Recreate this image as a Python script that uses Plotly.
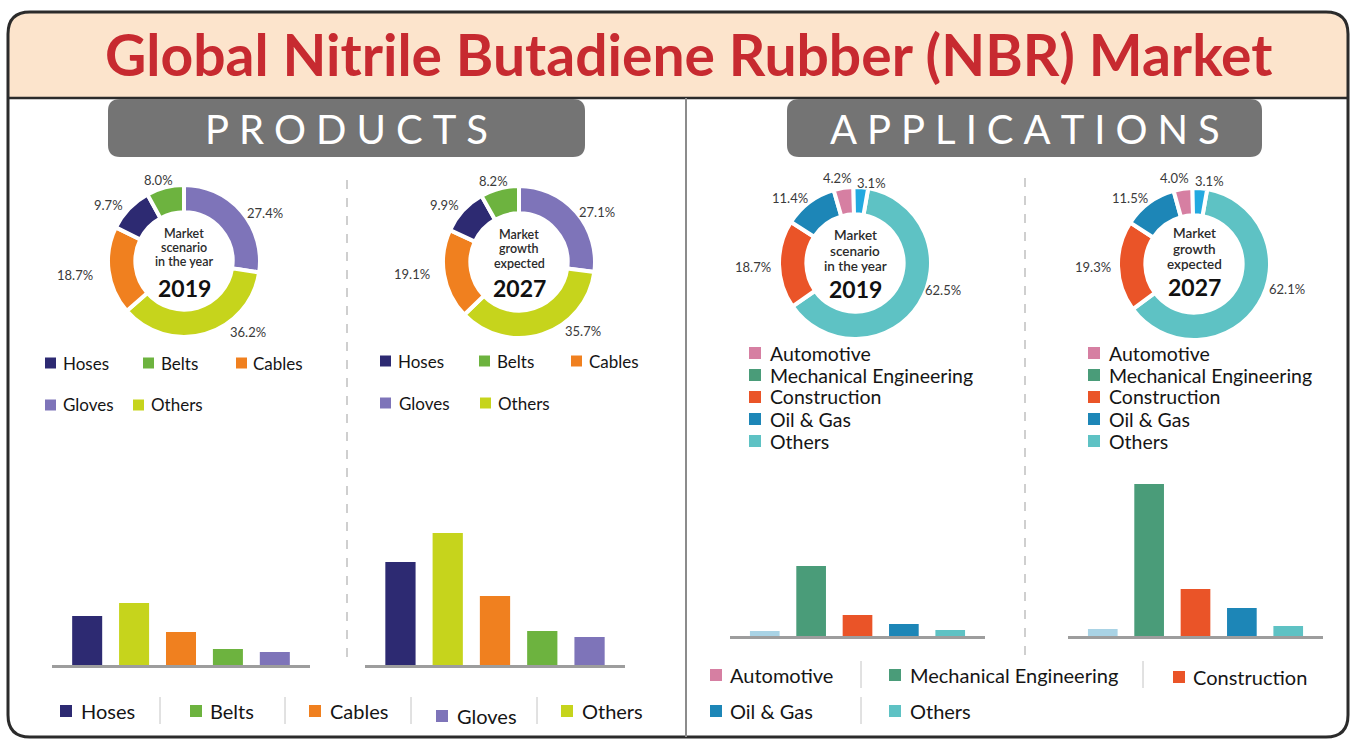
import plotly.graph_objects as go

W, H = 1354, 740

# ---------------- data ----------------
prod_pie_labels = ["Gloves", "Others", "Cables", "Hoses", "Belts"]
prod_share_2019 = [27.4, 36.2, 18.7, 9.7, 8.0]
prod_share_2027 = [27.1, 35.7, 19.1, 9.9, 8.2]

prod_bar_cats = ["Hoses", "Others", "Cables", "Belts", "Gloves"]
prod_bar_2019 = [49, 62, 33, 16, 13]
prod_bar_2027 = [103, 132, 69, 34, 28]

prod_legend_bottom = ["Hoses", "Belts", "Cables", "Gloves", "Others"]

app_pie_labels = ["Others", "Construction", "Oil & Gas", "Automotive", "Mechanical Engineering"]
app_share_2019 = [62.5, 18.7, 11.4, 4.2, 3.1]
app_share_2027 = [62.1, 19.3, 11.5, 4.0, 3.1]

app_bar_cats = ["Automotive", "Mechanical Engineering", "Construction", "Oil & Gas", "Others"]
app_bar_2019 = [5, 70, 21, 12, 6]
app_bar_2027 = [7, 152, 47, 28, 10]

app_legend = ["Automotive", "Mechanical Engineering", "Construction", "Oil & Gas", "Others"]

# ---------------- styles ----------------
PROD_COL = {"Hoses": "#2d2a72", "Belts": "#6db33f", "Cables": "#f0801f",
            "Gloves": "#7e74b9", "Others": "#c6d41c"}
APP_PIE_COL = {"Others": "#5ec2c4", "Construction": "#ea5428", "Oil & Gas": "#1d86b7",
               "Automotive": "#d67fa2", "Mechanical Engineering": "#22a9e0"}
APP_LEG_COL = {"Automotive": "#d67fa2", "Mechanical Engineering": "#4a9c79",
               "Construction": "#ea5428", "Oil & Gas": "#1d86b7", "Others": "#5ec2c4"}
APP_BAR_COL = {"Automotive": "#a9d3e5", "Mechanical Engineering": "#4a9c79",
               "Construction": "#ea5428", "Oil & Gas": "#1d86b7", "Others": "#5ec2c4"}
FONT = "Lato"


def X(px):
    return px / W


def Y(py):
    return 1 - py / H


def rrect_path(x0, y0, x1, y1, r, top=True, bottom=True):
    rt = r if top else 0
    rb = r if bottom else 0
    pts = []
    pts.append(f"M {X(x0 + rt)},{Y(y0)}")
    pts.append(f"L {X(x1 - rt)},{Y(y0)}")
    if rt:
        pts.append(f"Q {X(x1)},{Y(y0)} {X(x1)},{Y(y0 + rt)}")
    pts.append(f"L {X(x1)},{Y(y1 - rb)}")
    if rb:
        pts.append(f"Q {X(x1)},{Y(y1)} {X(x1 - rb)},{Y(y1)}")
    pts.append(f"L {X(x0 + rb)},{Y(y1)}")
    if rb:
        pts.append(f"Q {X(x0)},{Y(y1)} {X(x0)},{Y(y1 - rb)}")
    pts.append(f"L {X(x0)},{Y(y0 + rt)}")
    if rt:
        pts.append(f"Q {X(x0)},{Y(y0)} {X(x0 + rt)},{Y(y0)}")
    pts.append("Z")
    return " ".join(pts)


fig = go.Figure()
shapes = []
annotations = []


def ann(text, x, y, size, color="#222", weight="normal", xanchor="center", family=FONT):
    annotations.append(dict(text=text, x=X(x), y=Y(y), xref="paper", yref="paper",
                            xanchor=xanchor, yanchor="middle", showarrow=False,
                            font=dict(family=family, size=size, color=color, weight=weight)))


def line(x0, y0, x1, y1, color, width, dash="solid", layer="above"):
    shapes.append(dict(type="line", xref="paper", yref="paper", x0=X(x0), y0=Y(y0),
                       x1=X(x1), y1=Y(y1), line=dict(color=color, width=width, dash=dash),
                       layer=layer))


def square(x, y, s, color):
    shapes.append(dict(type="rect", xref="paper", yref="paper", x0=X(x), x1=X(x + s),
                       y0=Y(y + s / 2), y1=Y(y - s / 2), fillcolor=color,
                       line=dict(width=0), layer="above"))


def legend_item(sqx, tx, y, color, text, size, s=11):
    square(sqx, y, s, color)
    ann(text, tx, y, size, color="#151515", xanchor="left")


# ---------------- frame & header ----------------
shapes.append(dict(type="path", path=rrect_path(8, 12, 1348, 98, 22, top=True, bottom=False),
                   xref="paper", yref="paper", fillcolor="#fce4cc", line=dict(width=0),
                   layer="below"))
shapes.append(dict(type="path", path=rrect_path(8, 12, 1348, 737, 22),
                   xref="paper", yref="paper", fillcolor="rgba(0,0,0,0)",
                   line=dict(color="#2b2b2b", width=3), layer="below"))
line(8, 98, 1348, 98, "#2b2b2b", 2.5, layer="below")
line(686, 98, 686, 737, "#8c8c8c", 2, layer="below")

ann("Global Nitrile Butadiene Rubber (NBR) Market", 688, 54, 57, color="#c72a30", weight="bold")

# section boxes
for (x0, x1, label) in [(108, 585, "PRODUCTS"), (787, 1262, "APPLICATIONS")]:
    shapes.append(dict(type="path", path=rrect_path(x0, 99, x1, 157, 12),
                       xref="paper", yref="paper", fillcolor="#747474",
                       line=dict(width=0), layer="below"))
    spaced = "\u2005".join(list(label))
    ann(spaced, (x0 + x1) / 2, 129, 40, color="#ffffff")

# dashed dividers
line(347, 180, 347, 665, "#b0b0b0", 1.2, dash="dash")
line(1025, 178, 1025, 663, "#b0b0b0", 1.2, dash="dash")

# ---------------- donuts ----------------
R = 76


def donut(cx, cy, labels, values, colors, rotation):
    fig.add_trace(go.Pie(labels=labels, values=values, hole=0.64, sort=False,
                         direction="clockwise", rotation=rotation,
                         marker=dict(colors=colors, line=dict(color="#ffffff", width=4)),
                         textinfo="none", hoverinfo="label+percent", showlegend=False,
                         domain=dict(x=[X(cx - R), X(cx + R)], y=[Y(cy + R), Y(cy - R)])))


donut(184, 261, prod_pie_labels, prod_share_2019, [PROD_COL[l] for l in prod_pie_labels], 0)
donut(519, 262, prod_pie_labels, prod_share_2027, [PROD_COL[l] for l in prod_pie_labels], 0)
donut(855, 263, app_pie_labels, app_share_2019, [APP_PIE_COL[l] for l in app_pie_labels], 10)
donut(1194, 264, app_pie_labels, app_share_2027, [APP_PIE_COL[l] for l in app_pie_labels], 10)

# percentage labels (same order as the slices)
pct_pos = {
    "p19": [(265, 213), (248, 332), (75, 275), (108, 205), (158, 180)],
    "p27": [(597, 212), (583, 331), (412, 274), (444, 205), (493, 181)],
    "a19": [(943, 290), (753, 267), (790, 198), (837, 178), (871, 183)],
    "a27": [(1287, 289), (1093, 267), (1130, 198), (1174, 178), (1209, 181)],
}
for key, vals in [("p19", prod_share_2019), ("p27", prod_share_2027),
                  ("a19", app_share_2019), ("a27", app_share_2027)]:
    for (px, py), v in zip(pct_pos[key], vals):
        ann(f"{v:.1f}%", px, py, 13, color="#3a3a3a")

# centre texts
centre = [
    (184, ["Market", "scenario", "in the year"], "2019", 233, 14.5, 288, 12.5),
    (519, ["Market", "growth", "expected"], "2027", 234, 14.5, 288, 12.5),
    (855, ["Market", "scenario", "in the year"], "2019", 235, 15.5, 289, 13.5),
    (1194, ["Market", "growth", "expected"], "2027", 233, 15.5, 287, 13.5),
]
for cx, lines_, year, y0, dy, yy, fs in centre:
    for i, t in enumerate(lines_):
        ann(t, cx, y0 + i * dy, fs, color="#2a2a2a", weight=600)
    ann(year, cx, yy, 23, color="#111111", weight="bold")

# ---------------- legends under donuts ----------------
# products 2019
legend_item(45, 61, 363, PROD_COL["Hoses"], "Hoses", 17)
legend_item(143, 159, 363, PROD_COL["Belts"], "Belts", 17)
legend_item(236, 251, 363, PROD_COL["Cables"], "Cables", 17)
legend_item(45, 61, 405, PROD_COL["Gloves"], "Gloves", 17)
legend_item(133, 149, 405, PROD_COL["Others"], "Others", 17)
# products 2027
legend_item(380, 396, 361, PROD_COL["Hoses"], "Hoses", 17)
legend_item(479, 495, 361, PROD_COL["Belts"], "Belts", 17)
legend_item(571, 587, 361, PROD_COL["Cables"], "Cables", 17)
legend_item(380, 397, 403, PROD_COL["Gloves"], "Gloves", 17)
legend_item(480, 496, 403, PROD_COL["Others"], "Others", 17)
# applications (vertical lists)
for base_x in (749, 1088):
    for i, name in enumerate(app_legend):
        legend_item(base_x, base_x + 19, 353 + 22 * i, APP_LEG_COL[name], name, 19.5, s=12)

# ---------------- bars ----------------
def bar_panel(idx, cats, vals, colors, x0, x1, base, top, ymax):
    xa = "x" if idx == 1 else f"x{idx}"
    ya = "y" if idx == 1 else f"y{idx}"
    fig.add_trace(go.Bar(x=cats, y=vals, marker=dict(color=colors, line=dict(width=0)),
                         width=0.64, xaxis=xa, yaxis=ya, showlegend=False,
                         hovertemplate="%{x}: %{y}<extra></extra>"))
    xkey = "xaxis" if idx == 1 else f"xaxis{idx}"
    ykey = "yaxis" if idx == 1 else f"yaxis{idx}"
    fig.layout[xkey] = dict(domain=[X(x0), X(x1)], anchor=ya, type="category",
                            range=[-0.75, 4.75], showticklabels=False, showgrid=False,
                            zeroline=False, showline=True, linecolor="#9d9d9d",
                            linewidth=3, ticks="", fixedrange=True)
    fig.layout[ykey] = dict(domain=[Y(base), Y(top)], anchor=xa, range=[0, ymax],
                            visible=False, showgrid=False, zeroline=False, fixedrange=True)


bar_panel(1, prod_bar_cats, prod_bar_2019, [PROD_COL[c] for c in prod_bar_cats], 52, 310, 665, 465, 200)
bar_panel(2, prod_bar_cats, prod_bar_2027, [PROD_COL[c] for c in prod_bar_cats], 365, 625, 665, 465, 200)
bar_panel(3, app_bar_cats, app_bar_2019, [APP_BAR_COL[c] for c in app_bar_cats], 730, 985, 636, 476, 160)
bar_panel(4, app_bar_cats, app_bar_2027, [APP_BAR_COL[c] for c in app_bar_cats], 1068, 1323, 636, 476, 160)

# ---------------- bottom legends ----------------
prod_bottom_pos = [(60, 79, 711), (190, 208, 711), (309, 328, 711), (436, 455, 714), (561, 580, 711)]
for name, (sx, tx, y) in zip(prod_legend_bottom, prod_bottom_pos):
    legend_item(sx, tx, y + (2 if name == "Gloves" else 0), PROD_COL[name], name, 20, s=12)
for sx in (160, 285, 411, 537):
    line(sx, 697, sx, 724, "#c4c4c4", 1)

app_bottom_pos = [(710, 728, 675), (889, 908, 675), (1173, 1191, 677), (710, 728, 711), (889, 908, 711)]
for name, (sx, tx, y) in zip(app_legend, app_bottom_pos):
    legend_item(sx, tx, y, APP_LEG_COL[name], name, 20, s=12)
for sx, ya, yb in [(861, 661, 688), (1143, 661, 688), (861, 697, 724)]:
    line(sx, ya, sx, yb, "#c4c4c4", 1)

fig.update_layout(width=W, height=H, margin=dict(l=0, r=0, t=0, b=0),
                  paper_bgcolor="#ffffff", plot_bgcolor="rgba(0,0,0,0)",
                  shapes=shapes, annotations=annotations, bargap=0.3,
                  font=dict(family=FONT))

fig.write_html("out.html", config={"displayModeBar": False},
               post_script="document.body.style.margin='0';document.body.style.overflow='hidden';")
